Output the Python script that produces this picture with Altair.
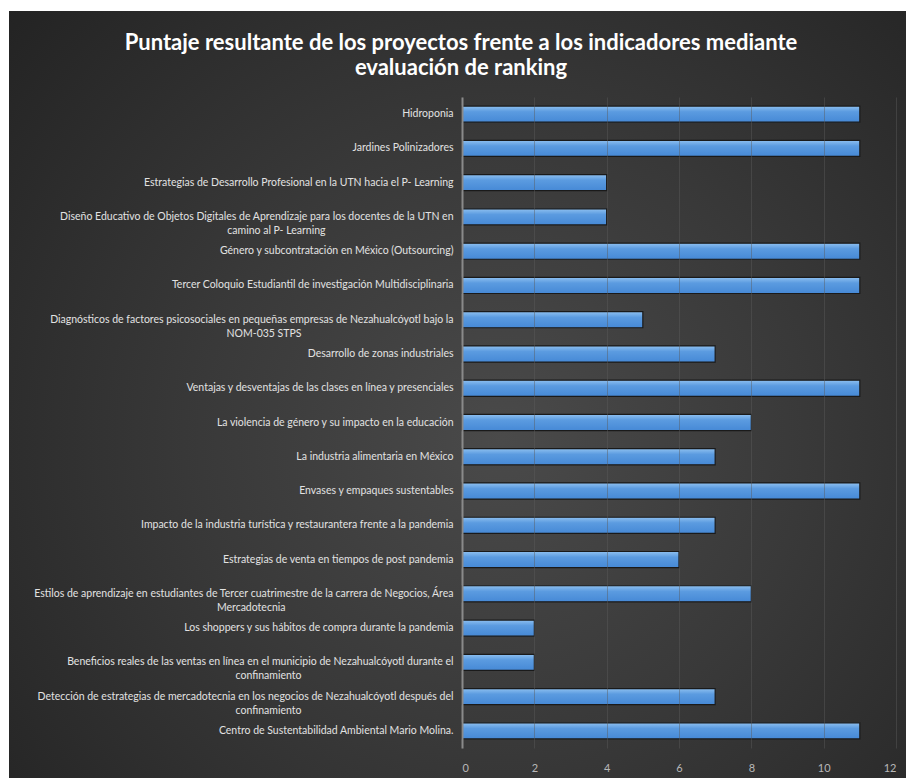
import altair as alt
import pandas as pd

# ---- data ----
projects = [
    "Hidroponia",
    "Jardines Polinizadores",
    "Estrategias de Desarrollo Profesional en la UTN hacia el P- Learning",
    "Diseño Educativo de Objetos Digitales de Aprendizaje para los docentes de la UTN en|camino al P- Learning",
    "Género y subcontratación en México (Outsourcing)",
    "Tercer Coloquio Estudiantil de investigación Multidisciplinaria",
    "Diagnósticos de factores psicosociales en pequeñas empresas de Nezahualcóyotl bajo la|NOM-035 STPS",
    "Desarrollo de zonas industriales",
    "Ventajas y desventajas de las clases en línea y presenciales",
    "La violencia de género y su impacto en la educación",
    "La industria alimentaria en México",
    "Envases y empaques sustentables",
    "Impacto de la industria turística y restaurantera frente a la pandemia",
    "Estrategias de venta en tiempos de post pandemia",
    "Estilos de aprendizaje en estudiantes de Tercer cuatrimestre de la carrera de Negocios, Área|Mercadotecnia",
    "Los shoppers y sus hábitos de compra durante la pandemia",
    "Beneficios reales de las ventas en línea en el municipio de Nezahualcóyotl durante el|confinamiento",
    "Detección de estrategias de mercadotecnia en los negocios de Nezahualcóyotl después del|confinamiento",
    "Centro de Sustentabilidad Ambiental Mario Molina.",
]
scores = [11, 11, 4, 4, 11, 11, 5, 7, 11, 8, 7, 11, 7, 6, 8, 2, 2, 7, 11]
x_ticks = [0, 2, 4, 6, 8, 10, 12]
title_lines = [
    "Puntaje resultante de los proyectos frente a los indicadores mediante",
    "evaluación de ranking",
]

# Approximate centring of the wrapped second line under the first
PAD = "\u2800"  # blank glyph (not stripped as whitespace)
def display_label(s):
    if "|" not in s:
        return s
    a, b = s.split("|")
    pad = int(round((len(a) - len(b)) / 2 * 0.52))
    return a + "|" + b + PAD * pad

df = pd.DataFrame({
    "proyecto": [display_label(p) for p in projects],
    "puntaje": scores,
})
order = list(df["proyecto"])

W, H = 434, 651
FONT = "Lato, Liberation Sans, sans-serif"
one = pd.DataFrame({"k": [0]})

bg = alt.Chart(one).mark_rect(
    color=alt.Gradient(
        gradient="radial",
        stops=[
            alt.GradientStop(color="#4a4a4a", offset=0),
            alt.GradientStop(color="#393939", offset=0.45),
            alt.GradientStop(color="#222222", offset=1),
        ],
        x1=0.55, y1=0.55, x2=0.55, y2=0.55, r1=0, r2=0.75,
    )
).encode(
    x=alt.value(-453), x2=alt.value(W + 10),
    y=alt.value(-86), y2=alt.value(H + 30),
)

title = alt.Chart(one).mark_text(
    font=FONT, fontSize=22, fontWeight="bold", color="#ffffff",
    align="center", baseline="middle", lineHeight=25,
).encode(
    x=alt.value(-1), y=alt.value(-54), text=alt.value(title_lines),
)

bars = alt.Chart(df).mark_bar(
    color=alt.Gradient(
        gradient="linear",
        stops=[
            alt.GradientStop(color="#8ec0f0", offset=0),
            alt.GradientStop(color="#5b9be0", offset=0.35),
            alt.GradientStop(color="#4689d6", offset=1),
        ],
        x1=0, x2=0, y1=0, y2=1,
    ),
    stroke="#1a1a1a",
    strokeWidth=1.2,
).encode(
    x=alt.X(
        "puntaje:Q",
        scale=alt.Scale(domain=[0, 12], nice=False),
        axis=alt.Axis(
            values=x_ticks, title=None, domain=False, ticks=False,
            grid=True, gridColor="#5a5a5a", gridOpacity=0.45, gridWidth=1,
            labelColor="#b8b8b8", labelFont=FONT, labelFontSize=11,
            labelPadding=14, zindex=1,
        ),
    ),
    y=alt.Y(
        "proyecto:N",
        sort=order,
        scale=alt.Scale(paddingInner=0.53, paddingOuter=0.265),
        axis=alt.Axis(
            title=None, ticks=False, domain=True, domainColor="#8a8a8a",
            domainWidth=2, grid=False,
            labelColor="#e2e2e2", labelFont=FONT, labelFontSize=10.5,
            labelPadding=9, labelLimit=470, labelAlign="right",
            labelExpr="split(datum.label, '|')", labelLineHeight=14,
            zindex=2,
        ),
    ),
)

chart = alt.layer(bg, bars, title).properties(
    width=W,
    height=H,
    background="#ffffff",
    padding={"left": 462, "top": 97, "right": 10, "bottom": 30},
    autosize=alt.AutoSizeParams(type="none"),
).configure_view(stroke=None)

chart.save("out.html", embed_options={"renderer": "svg", "actions": False})
